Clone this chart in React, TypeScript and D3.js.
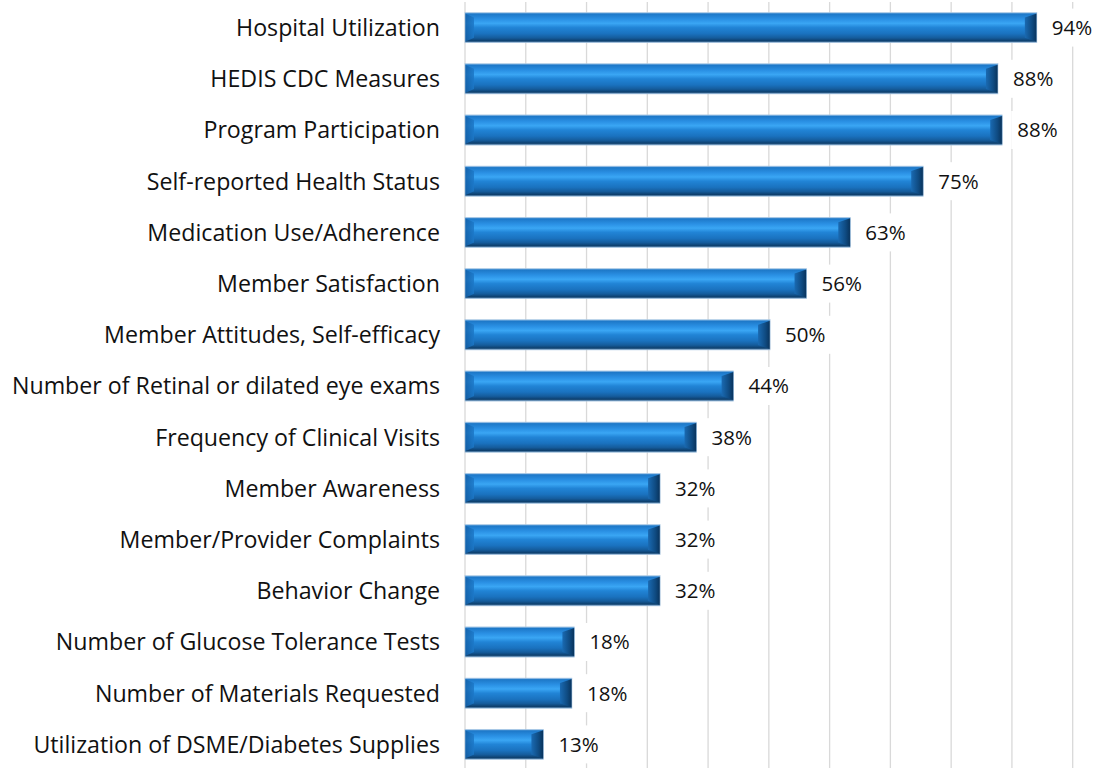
import React, { useEffect, useRef } from "react";
import * as d3 from "d3";

const categories = [
  "Hospital Utilization",
  "HEDIS CDC Measures",
  "Program Participation",
  "Self-reported Health Status",
  "Medication Use/Adherence",
  "Member Satisfaction",
  "Member Attitudes, Self-efficacy",
  "Number of Retinal or dilated eye exams",
  "Frequency of Clinical Visits",
  "Member Awareness",
  "Member/Provider Complaints",
  "Behavior Change",
  "Number of Glucose Tolerance Tests",
  "Number of Materials Requested",
  "Utilization of DSME/Diabetes Supplies",
];

const values = [
  0.941, 0.877, 0.884, 0.754, 0.634, 0.562, 0.502, 0.442, 0.381, 0.321, 0.321,
  0.321, 0.18, 0.176, 0.129,
];

const gridTicks = [0, 0.1, 0.2, 0.3, 0.4, 0.5, 0.6, 0.7, 0.8, 0.9, 1.0];

const W = 1098;
const H = 768;
const FONT = "'Open Sans', Lato, sans-serif";

export default function App() {
  const ref = useRef<SVGSVGElement>(null);

  useEffect(() => {
    const svg = d3.select(ref.current);
    svg.selectAll("*").remove();

    const x = d3.scaleLinear().domain([0, 1]).range([465, 1072.7]);
    const y = d3
      .scaleBand<string>()
      .domain(categories)
      .range([2, 770])
      .paddingInner(0.41)
      .paddingOuter(0.205);

    const defs = svg.append("defs");
    const body = defs
      .append("linearGradient")
      .attr("id", "bodyGrad")
      .attr("x1", 0)
      .attr("y1", 0)
      .attr("x2", 0)
      .attr("y2", 1);
    [
      [0, "#8fbde6"],
      [0.05, "#1d78c8"],
      [0.22, "#2a90e4"],
      [0.36, "#3aa6f4"],
      [0.5, "#2184d6"],
      [0.7, "#1a72bf"],
      [0.84, "#155c9c"],
      [0.94, "#0d3f6d"],
      [1, "#7aa3c8"],
    ].forEach(([o, c]) =>
      body.append("stop").attr("offset", o as number).attr("stop-color", c as string)
    );

    const right = defs
      .append("linearGradient")
      .attr("id", "rightGrad")
      .attr("x1", 0)
      .attr("y1", 0)
      .attr("x2", 1)
      .attr("y2", 0);
    right.append("stop").attr("offset", 0).attr("stop-color", "#1a6ab2");
    right.append("stop").attr("offset", 0.6).attr("stop-color", "#0f4b82");
    right.append("stop").attr("offset", 1).attr("stop-color", "#08325a");

    const left = defs
      .append("linearGradient")
      .attr("id", "leftGrad")
      .attr("x1", 0)
      .attr("y1", 0)
      .attr("x2", 1)
      .attr("y2", 0);
    left.append("stop").attr("offset", 0).attr("stop-color", "#135fa6");
    left.append("stop").attr("offset", 1).attr("stop-color", "#1c78c8");

    // gridlines
    svg
      .append("g")
      .selectAll("line")
      .data(gridTicks)
      .enter()
      .append("line")
      .attr("x1", (d) => x(d))
      .attr("x2", (d) => x(d))
      .attr("y1", 2)
      .attr("y2", H)
      .attr("stroke", "#d9d9d9")
      .attr("stroke-width", 1.3);

    const fmt = d3.format(".0%");
    const bh = y.bandwidth();
    const bx = 9;
    const by = 5;

    const rows = svg
      .append("g")
      .selectAll("g")
      .data(categories.map((c, i) => ({ c, v: values[i] })))
      .enter()
      .append("g");

    rows.each(function (d) {
      const g = d3.select(this);
      const x0 = x(0);
      const x1 = x(d.v);
      const y0 = y(d.c)!;
      const y1 = y0 + bh;
      const cy = y0 + bh / 2;

      // data label box (white background)
      g.append("rect")
        .attr("x", x1 + 9)
        .attr("y", cy - 19)
        .attr("width", 54)
        .attr("height", 38)
        .attr("fill", "#ffffff");

      g.append("rect")
        .attr("x", x0)
        .attr("y", y0)
        .attr("width", x1 - x0)
        .attr("height", bh)
        .attr("fill", "url(#bodyGrad)");

      g.append("polygon")
        .attr(
          "points",
          [
            [x0, y0 + 1],
            [x0 + bx, y0 + by],
            [x0 + bx, y1 - by],
            [x0, y1 - 1],
          ].join(" ")
        )
        .attr("fill", "url(#leftGrad)")
        .attr("opacity", 0.85);

      g.append("polygon")
        .attr(
          "points",
          [
            [x1, y0 + 1],
            [x1 - bx - 3, y0 + by],
            [x1 - bx - 3, y1 - by],
            [x1, y1 - 1],
          ].join(" ")
        )
        .attr("fill", "url(#rightGrad)");

      g.append("rect")
        .attr("x", x0)
        .attr("y", y0)
        .attr("width", x1 - x0)
        .attr("height", bh)
        .attr("fill", "none")
        .attr("stroke", "#a9c6e2")
        .attr("stroke-width", 0.6);

      g.append("text")
        .attr("x", x1 + 15)
        .attr("y", cy)
        .attr("dy", "0.36em")
        .attr("font-family", FONT)
        .attr("font-size", 20.5)
        .attr("fill", "#111111")
        .text(fmt(d.v));

      g.append("text")
        .attr("x", 440)
        .attr("y", cy)
        .attr("dy", "0.36em")
        .attr("text-anchor", "end")
        .attr("font-family", FONT)
        .attr("font-size", 23.2)
        .attr("fill", "#111111")
        .text(d.c);
    });
  }, []);

  return (
    <svg
      ref={ref}
      width={W}
      height={H}
      style={{ position: "absolute", left: 0, top: 0, background: "#ffffff" }}
    />
  );
}
